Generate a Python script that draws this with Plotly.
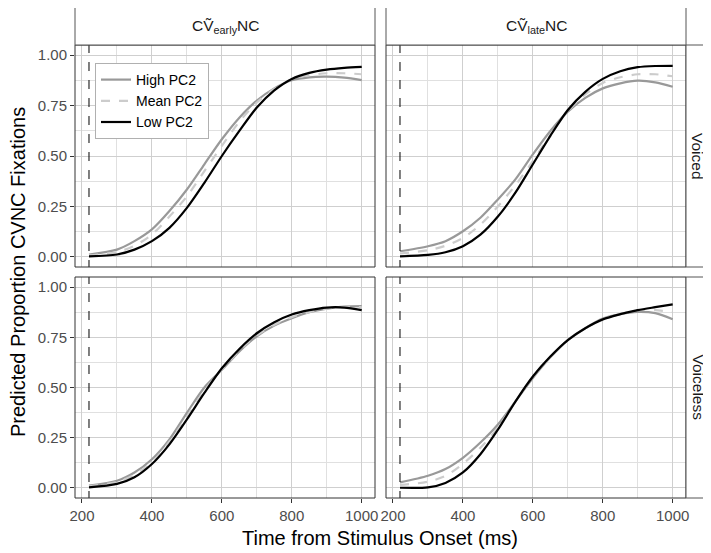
import plotly.graph_objects as go

# page offset of the plot div (browser default body margin)
OFF = 8
W, H = 711 - OFF, 553 - OFF

time_ms = [220, 300, 350, 400, 450, 500, 550, 600, 650, 700, 750, 800, 850, 900, 950, 1000]

# Voiced, early
ve_high = [0.012, 0.036, 0.078, 0.136, 0.227, 0.334, 0.459, 0.583, 0.690, 0.775, 0.835, 0.875, 0.890, 0.893, 0.888, 0.876]
ve_mean = [0.008, 0.024, 0.055, 0.111, 0.200, 0.300, 0.425, 0.550, 0.670, 0.765, 0.832, 0.880, 0.900, 0.910, 0.910, 0.905]
ve_low = [0.003, 0.012, 0.036, 0.078, 0.144, 0.243, 0.367, 0.500, 0.624, 0.740, 0.825, 0.882, 0.912, 0.928, 0.937, 0.942]
# Voiced, late
vl_high = [0.028, 0.053, 0.078, 0.127, 0.194, 0.285, 0.384, 0.508, 0.624, 0.720, 0.788, 0.835, 0.860, 0.873, 0.865, 0.843]
vl_mean = [0.017, 0.033, 0.055, 0.094, 0.160, 0.250, 0.355, 0.475, 0.605, 0.722, 0.805, 0.862, 0.890, 0.905, 0.905, 0.895]
vl_low = [0.003, 0.010, 0.023, 0.053, 0.110, 0.200, 0.318, 0.459, 0.600, 0.728, 0.818, 0.882, 0.920, 0.940, 0.946, 0.947]
# Voiceless, early
ue_high = [0.012, 0.036, 0.077, 0.143, 0.242, 0.374, 0.500, 0.588, 0.680, 0.755, 0.808, 0.845, 0.875, 0.893, 0.903, 0.905]
ue_mean = [0.008, 0.030, 0.066, 0.127, 0.230, 0.354, 0.485, 0.590, 0.683, 0.760, 0.812, 0.850, 0.875, 0.893, 0.900, 0.900]
ue_low = [0.003, 0.020, 0.053, 0.119, 0.217, 0.341, 0.473, 0.596, 0.692, 0.770, 0.825, 0.863, 0.885, 0.898, 0.898, 0.885]
# Voiceless, late
ul_high = [0.028, 0.061, 0.094, 0.150, 0.226, 0.316, 0.430, 0.547, 0.650, 0.736, 0.795, 0.843, 0.865, 0.876, 0.870, 0.840]
ul_mean = [0.015, 0.031, 0.060, 0.120, 0.200, 0.300, 0.430, 0.552, 0.652, 0.736, 0.795, 0.840, 0.865, 0.885, 0.885, 0.876]
ul_low = [0.001, 0.003, 0.025, 0.077, 0.168, 0.290, 0.430, 0.555, 0.654, 0.736, 0.795, 0.839, 0.865, 0.885, 0.900, 0.914]

onset_ms = 220
series_names = ["High PC2", "Mean PC2", "Low PC2"]
col_labels = ["CṼ<sub>early</sub>NC", "CṼ<sub>late</sub>NC"]
row_labels = ["Voiced", "Voiceless"]
x_ticks = [200, 400, 600, 800, 1000]
y_ticks = [0, 0.25, 0.5, 0.75, 1.0]
y_ticklabels = ["0.00", "0.25", "0.50", "0.75", "1.00"]

panels = [
    [ve_high, ve_mean, ve_low],
    [vl_high, vl_mean, vl_low],
    [ue_high, ue_mean, ue_low],
    [ul_high, ul_mean, ul_low],
]

styles = [
    dict(color="#999999", width=2.2, dash="solid"),
    dict(color="#cccccc", width=2.2, dash="dash"),
    dict(color="#000000", width=2.2, dash="solid"),
]

def px_x(p):
    return (p - OFF) / W

def px_y(p):
    return 1 - (p - OFF) / H

xdom = [[px_x(75), px_x(375)], [px_x(386), px_x(686)]]
ydom = [[px_y(267), px_y(45)], [px_y(498), px_y(277)]]

FONT = "Liberation Sans, Arial, sans-serif"
fig = go.Figure()

for i, data in enumerate(panels):
    ax = "" if i == 0 else str(i + 1)
    for j, vals in enumerate(data):
        fig.add_trace(go.Scatter(
            x=time_ms, y=vals, mode="lines", name=series_names[j],
            line=dict(shape="spline", smoothing=0.8, **styles[j]),
            xaxis="x" + ax, yaxis="y" + ax,
            showlegend=(i == 0), legendgroup=series_names[j],
        ))
    fig.add_trace(go.Scatter(
        x=[onset_ms, onset_ms], y=[-0.06, 1.06], mode="lines",
        line=dict(color="black", width=1, dash="dash"),
        xaxis="x" + ax, yaxis="y" + ax, showlegend=False, hoverinfo="skip",
    ))

layout = dict(
    width=W, height=H, margin=dict(l=0, r=0, t=0, b=0, autoexpand=False),
    paper_bgcolor="white", plot_bgcolor="white",
    font=dict(family=FONT, color="#000000"),
    showlegend=True,
    legend=dict(
        x=px_x(95), y=px_y(63), xanchor="left", yanchor="top",
        bgcolor="white", bordercolor="#b0b0b0", borderwidth=1,
        font=dict(size=14, color="#000000", family=FONT),
        tracegroupgap=0, itemwidth=30,
    ),
)

for i in range(4):
    r, c = divmod(i, 2)
    ax = "" if i == 0 else str(i + 1)
    xa = dict(
        domain=xdom[c], range=[180, 1038], anchor="y" + ax, automargin=False,
        tickvals=x_ticks, ticktext=[str(v) for v in x_ticks],
        showgrid=True, gridcolor="#cfcfcf", gridwidth=0.9,
        minor=dict(tickvals=[300, 500, 700, 900], showgrid=True,
                   gridcolor="#e0e0e0", gridwidth=0.6, ticks=""),
        zeroline=False, showline=False,
        ticks="outside" if r == 1 else "", ticklen=4, tickcolor="#333333",
        showticklabels=(r == 1),
        tickfont=dict(size=15, color="#4d4d4d", family=FONT),
    )
    ya = dict(
        domain=ydom[r], range=[-0.05, 1.05], anchor="x" + ax, automargin=False,
        tickvals=y_ticks, ticktext=y_ticklabels,
        showgrid=True, gridcolor="#cfcfcf", gridwidth=0.9,
        minor=dict(tickvals=[0.125, 0.375, 0.625, 0.875], showgrid=True,
                   gridcolor="#e0e0e0", gridwidth=0.6, ticks=""),
        zeroline=False, showline=False,
        ticks="outside" if c == 0 else "", ticklen=4, tickcolor="#333333",
        showticklabels=(c == 0),
        tickfont=dict(size=15, color="#4d4d4d", family=FONT),
    )
    layout["xaxis" + ax] = xa
    layout["yaxis" + ax] = ya

shapes = []
annotations = []
# panel borders
for r in range(2):
    for c in range(2):
        shapes.append(dict(type="rect", xref="paper", yref="paper",
                           x0=xdom[c][0], x1=xdom[c][1], y0=ydom[r][0], y1=ydom[r][1],
                           line=dict(color="#333333", width=1), layer="above"))
# top strips
for c in range(2):
    shapes.append(dict(type="rect", xref="paper", yref="paper",
                       x0=xdom[c][0], x1=xdom[c][1], y0=px_y(45), y1=px_y(7),
                       line=dict(color="#555555", width=1), fillcolor="white"))
    annotations.append(dict(text=col_labels[c], xref="paper", yref="paper",
                            x=(xdom[c][0] + xdom[c][1]) / 2, y=px_y(26),
                            xanchor="center", yanchor="middle",
                            showarrow=False, font=dict(size=15.5, color="#1a1a1a", family=FONT)))
# right strips
for r in range(2):
    shapes.append(dict(type="rect", xref="paper", yref="paper",
                       x0=px_x(686), x1=px_x(730), y0=ydom[r][0], y1=ydom[r][1],
                       line=dict(color="#555555", width=1), fillcolor="white"))
    annotations.append(dict(text=row_labels[r], xref="paper", yref="paper",
                            x=px_x(698), y=(ydom[r][0] + ydom[r][1]) / 2,
                            xanchor="center", yanchor="middle",
                            showarrow=False, textangle=90,
                            font=dict(size=15.5, color="#1a1a1a", family=FONT)))

annotations.append(dict(text="Time from Stimulus Onset (ms)", xref="paper", yref="paper",
                        x=px_x(380), y=px_y(538), xanchor="center", yanchor="middle",
                        showarrow=False, font=dict(size=20, color="#000000", family=FONT)))
annotations.append(dict(text="Predicted Proportion CVNC Fixations", xref="paper", yref="paper",
                        x=px_x(18), y=px_y(272), xanchor="center", yanchor="middle",
                        showarrow=False, textangle=-90,
                        font=dict(size=20, color="#000000", family=FONT)))

layout["shapes"] = shapes
layout["annotations"] = annotations
fig.update_layout(**layout)
fig.write_html("out.html")
